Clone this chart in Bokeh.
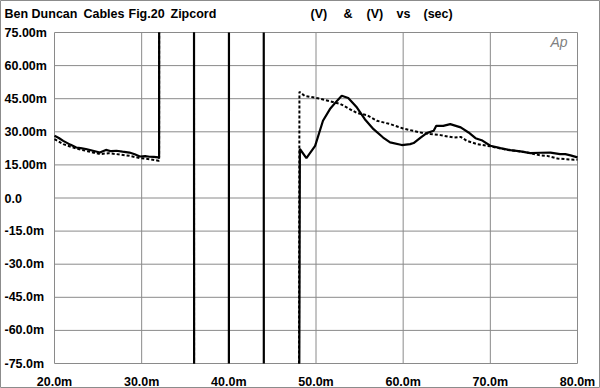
import math
from bokeh.plotting import figure
from bokeh.models import Range1d
from bokeh.core.properties import value
from bokeh.embed import file_html
from bokeh.resources import INLINE

# ---------------- data ----------------
x_ticks = [20, 30, 40, 50, 60, 70, 80]
x_labels = ["20.0m", "30.0m", "40.0m", "50.0m", "60.0m", "70.0m", "80.0m"]
y_ticks = [75, 60, 45, 30, 15, 0, -15, -30, -45, -60, -75]
y_labels = ["75.00m", "60.00m", "45.00m", "30.00m", "15.00m", "0.0",
            "-15.0m", "-30.0m", "-45.0m", "-60.0m", "-75.0m"]

title_left = ["Ben Duncan", "Cables", "Fig.20", "Zipcord"]
title_right = ["(V)", "&", "(V)", "vs", "(sec)"]

# solid trace (V); values of +/-200 are off-scale (clipped by the window)
solid_x = [20.0, 20.5, 21.0, 21.8, 22.5, 23.0, 23.6, 24.3, 25.2, 25.9, 26.5, 27.1,
           27.8, 28.6, 29.2, 29.8, 30.4, 30.9, 31.4, 31.9, 32.0,
           32.02, 36.0, 36.02, 40.0, 40.02, 44.0, 44.02, 48.0,
           48.15, 48.9, 49.9, 50.8, 51.6, 52.4, 52.95, 53.7, 54.7, 55.6, 56.6,
           57.7, 58.5, 59.85, 60.8, 61.2, 62.0, 62.7, 63.5, 63.8, 64.6, 65.4,
           66.6, 67.5, 68.3, 69.0, 70.0, 71.15, 72.3, 73.45, 74.6, 75.75, 76.9,
           78.0, 78.6, 79.2, 80.0]
solid_y = [28.2, 27.2, 25.9, 24.2, 22.9, 22.6, 22.2, 21.5, 20.6, 21.8, 21.2, 21.4,
           21.0, 20.6, 19.8, 18.8, 19.0, 18.7, 18.6, 18.4, 18.3,
           200, 200, -200, -200, 200, 200, -200, -200,
           22.2, 18.1, 23.6, 35.0, 40.3, 44.0, 46.3, 45.3, 41.0, 35.7, 31.2,
           27.4, 25.2, 24.0, 24.4, 24.9, 27.4, 29.4, 30.5, 32.7, 32.7, 33.5,
           32.0, 29.7, 27.1, 26.2, 23.7, 22.6, 21.7, 21.1, 20.3, 20.5, 20.6,
           19.9, 19.9, 19.3, 18.4]

# dotted trace (V)
dash_x = [20.0, 21.0, 22.5, 23.8, 25.2, 26.2, 27.1, 28.6, 29.8, 30.9, 31.9, 32.0,
          32.02, 36.0, 36.02, 48.0,
          48.1, 48.7, 50.5, 52.8, 54.7, 55.8, 57.0, 58.5, 60.0, 62.3, 63.1,
          64.25, 65.8, 66.6, 67.3, 68.5, 70.0, 72.0, 74.0, 75.75, 76.5, 77.7,
          79.6, 80.0]
dash_y = [26.7, 24.4, 22.4, 21.2, 19.9, 20.3, 19.9, 19.1, 18.1, 17.6, 16.9, 16.9,
          200, 200, -200, -200,
          48.1, 46.3, 45.0, 42.6, 38.5, 37.6, 35.0, 33.5, 31.5, 29.4, 29.0,
          28.5, 27.4, 27.7, 25.9, 24.4, 23.4, 21.8, 20.8, 19.3, 19.1, 17.9,
          17.3, 17.4]

# ---------------- layout (pixels) ----------------
W, H = 600, 388
FL, FR, FT, FB = 54, 577, 32, 363          # chart window in page pixels
FONT = "Liberation Sans"
FS = "12.5px"
GRID = "#8a8a8a"

XMIN, XMAX = min(x_ticks), max(x_ticks)
YMIN, YMAX = min(y_ticks), max(y_ticks)
XPP = (XMAX - XMIN) / (FR - FL)
YPP = (YMAX - YMIN) / (FB - FT)
x_start, x_end = XMIN - FL * XPP, XMAX + (W - FR) * XPP
y_start, y_end = YMIN - (H - FB) * YPP, YMAX + FT * YPP


def px2x(px):
    return x_start + px * XPP


def py2y(py):
    return y_end - py * YPP


def clip_line(xs, ys, lo, hi):
    """Clip a polyline to lo <= y <= hi, breaking it with NaN where it leaves."""
    ox, oy = [], []
    last = None
    for i in range(len(xs) - 1):
        x0, y0, x1, y1 = xs[i], ys[i], xs[i + 1], ys[i + 1]
        t0, t1 = 0.0, 1.0
        dy = y1 - y0
        if dy == 0:
            if y0 < lo or y0 > hi:
                continue
        else:
            ta, tb = (lo - y0) / dy, (hi - y0) / dy
            t0 = max(t0, min(ta, tb))
            t1 = min(t1, max(ta, tb))
            if t0 > t1:
                continue
        p0 = (x0 + t0 * (x1 - x0), y0 + t0 * dy)
        p1 = (x0 + t1 * (x1 - x0), y0 + t1 * dy)
        if last is None or abs(p0[0] - last[0]) > 1e-9 or abs(p0[1] - last[1]) > 1e-9:
            if ox:
                ox.append(math.nan)
                oy.append(math.nan)
            ox.append(p0[0])
            oy.append(p0[1])
        ox.append(p1[0])
        oy.append(p1[1])
        last = p1
    return ox, oy


p = figure(width=W, height=H, x_range=Range1d(x_start, x_end),
           y_range=Range1d(y_start, y_end),
           x_axis_location=None, y_axis_location=None,
           output_backend="svg", toolbar_location=None,
           min_border=0, min_border_left=0, min_border_right=0,
           min_border_top=0, min_border_bottom=0)
p.xgrid.visible = False
p.ygrid.visible = False
p.background_fill_color = "white"
p.border_fill_color = "white"
p.outline_line_color = "#8c8c8c"
p.outline_line_width = 1

# grid (includes the window border)
p.segment(x0=x_ticks, y0=[YMIN] * len(x_ticks), x1=x_ticks, y1=[YMAX] * len(x_ticks),
          line_color=GRID, line_width=1)
p.segment(x0=[XMIN] * len(y_ticks), y0=y_ticks, x1=[XMAX] * len(y_ticks), y1=y_ticks,
          line_color=GRID, line_width=1)

# traces
dx, dy_ = clip_line(dash_x, dash_y, YMIN, YMAX)
sx, sy = clip_line(solid_x, solid_y, YMIN, YMAX)
p.line(dx, dy_, line_color="black", line_width=2, line_dash="3 2")
p.line(sx, sy, line_color="black", line_width=2.2)

txt = dict(text_font=value(FONT), text_font_style="bold",
           text_font_size=value(FS), text_color="black")

# tick labels
p.text(x=x_ticks, y=[py2y(381)] * len(x_ticks), text=x_labels,
       text_align="center", text_baseline="middle", **txt)
p.text(x=[px2x(4)] * len(y_ticks), y=y_ticks, text=y_labels,
       text_align="left", text_baseline="middle", **txt)

# heading
left_px = [4, 83, 128, 170]
right_px = [310, 343, 366, 396, 423]
p.text(x=[px2x(v) for v in left_px + right_px], y=[py2y(13)] * 9,
       text=title_left + title_right, text_align="left", text_baseline="middle", **txt)

# AP logo
p.text(x=[px2x(550)], y=[py2y(41)], text=["Ap"], text_font=value(FONT),
       text_font_style="italic", text_font_size=value("14px"), text_color="#808080",
       text_align="left", text_baseline="middle")

open("out.html", "w").write(file_html(p, INLINE))
